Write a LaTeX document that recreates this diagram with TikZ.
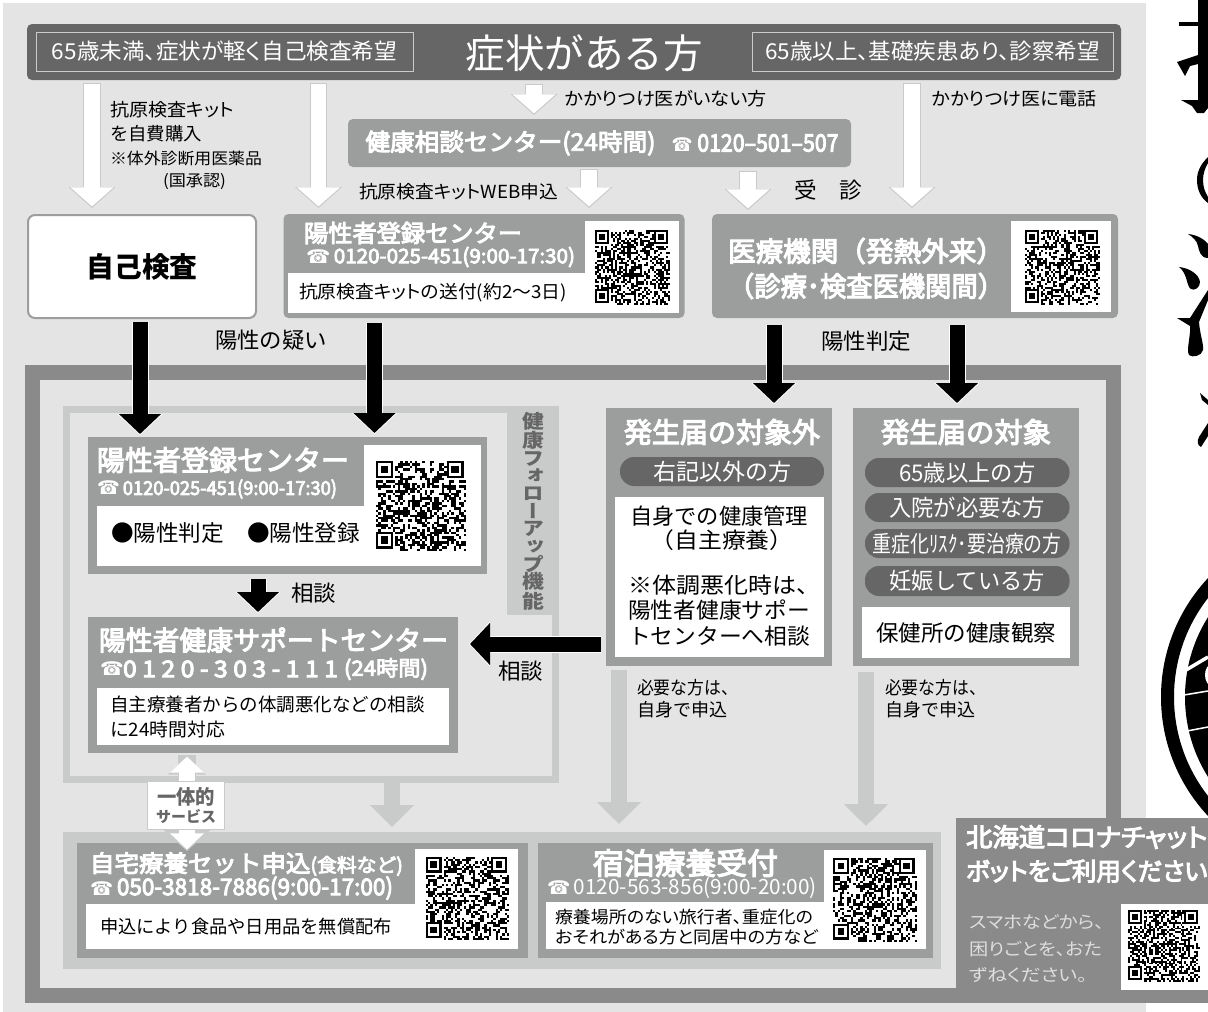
\documentclass[tikz,border=0pt]{standalone}
\usepackage{fontspec}
\usetikzlibrary{arrows.meta}
\setmainfont{Noto Sans CJK JP}
\newfontfamily\phoneFont{DejaVu Sans}
\newfontfamily\medFont[RawFeature={embolden=4}]{Noto Sans CJK JP}
\newfontfamily\vertFont[RawFeature={+vert}]{Noto Sans CJK JP}

\definecolor{panelGray}{RGB}{228,228,228}
\definecolor{boxGray}{RGB}{156,157,157}
\definecolor{darkGray}{RGB}{102,102,102}
\definecolor{frameGray}{RGB}{138,138,138}
\definecolor{bandGray}{RGB}{201,202,202}
\definecolor{softText}{RGB}{222,222,222}

\newcommand{\sz}[1]{\fontsize{#1}{#1}\selectfont}
\newcommand{\fitw}[2]{\resizebox{#1pt}{\height}{#2}}
\newcommand{\telMark}{{\phoneFont\sz{19}☎}}
\newcommand{\tight}{\addfontfeature{RawFeature=+palt}}

% x, y, side of the code
\newcommand{\qrCode}[3]{%
  \pgfmathsetmacro{\qrStep}{#3/37}
  \foreach \i in {0,...,36}{
    \foreach \j in {0,...,36}{
      \pgfmathrandominteger{\qrBit}{0}{1}
      \ifnum\qrBit=1
        \fill (#1+\i*\qrStep,#2+\j*\qrStep) rectangle ++(\qrStep,\qrStep);
      \fi
    }
  }
  \foreach \u/\v in {0/0,29/0,0/29}{
    \fill[white] (#1+\u*\qrStep,#2+\v*\qrStep) rectangle ++(8*\qrStep,8*\qrStep);
    \fill (#1+\u*\qrStep,#2+\v*\qrStep) rectangle ++(7*\qrStep,7*\qrStep);
    \fill[white] (#1+\u*\qrStep+\qrStep,#2+\v*\qrStep+\qrStep) rectangle ++(5*\qrStep,5*\qrStep);
    \fill (#1+\u*\qrStep+2*\qrStep,#2+\v*\qrStep+2*\qrStep) rectangle ++(3*\qrStep,3*\qrStep);
  }
}

\tikzset{
  box/.style={inner sep=0,outer sep=0,fill=boxGray},
  whiteBox/.style={inner sep=0,outer sep=0,fill=white},
  roundBox/.style={box,rounded corners=5pt},
  pill/.style={inner sep=0,outer sep=0,fill=darkGray,rounded corners=14pt,text=white,font=\sz{23}},
  lbl/.style={inner sep=0,outer sep=0},
  head/.style={lbl,text=white,font=\sz{28}\bfseries},
  tel/.style={lbl,text=white,font=\sz{20}\medFont},
  hollowArrow/.style={draw=white,line width=15.5pt,shorten >=1.6pt,shorten <=1pt,
    -{Triangle[length=19pt,width=42pt]},
    preaction={draw=bandGray,line width=17.5pt,shorten >=0pt,shorten <=0pt,-{Triangle[length=21pt,width=46pt]}}},
  bigArrow/.style={draw=black,line width=15pt,-{Triangle[length=20pt,width=41pt]},
    preaction={draw=white,line width=17pt,shorten >=-1pt,-{Triangle[length=21pt,width=44pt]}}},
  softArrow/.style={draw=bandGray,line width=16pt,-{Triangle[length=22pt,width=43pt]}},
}

\begin{document}
\begin{tikzpicture}[x=1pt,y=-1pt]
\useasboundingbox (0,0) rectangle (1208,1012);
\clip (0,0) rectangle (1208,1012);
\pgfmathsetseed{7}

% right hand side, cut off by the page
\fill (1198,0) -- (1208,0) -- (1208,108) -- (1204,113) -- (1197,113) -- (1192,106) -- (1181,100) -- (1198,100) -- cycle;
\fill (1179,22) rectangle (1198,26);
\fill (1177,62) -- (1198,55) -- (1198,64) -- (1190,66) -- (1185,76) -- cycle;
\fill (1208,157) .. controls (1200,165) and (1197,172) .. (1197,180) .. controls (1197,190) and (1201,198) .. (1208,203) -- (1208,197) .. controls (1205,192) and (1203,187) .. (1203,180) .. controls (1203,174) and (1205,168) .. (1208,163) -- cycle;
\fill (1188,234) .. controls (1198,235) and (1205,240) .. (1208,244) -- (1208,258) .. controls (1200,258) and (1199,250) .. (1198,246) .. controls (1197,241) and (1193,237) .. cycle;
\fill (1179,267) .. controls (1189,268) and (1199,274) .. (1200,282) .. controls (1200,288) and (1194,291) .. (1191,289) .. controls (1186,286) and (1188,274) .. cycle;
\fill (1177,318) -- (1190,318) -- (1208,290) -- (1208,300) -- (1199,322) .. controls (1200,335) and (1204,345) .. (1203,350) .. controls (1202,356) and (1192,358) .. (1189,355) .. controls (1186,350) and (1191,335) .. (1190,326) -- cycle;
\fill (1200,393) -- (1208,400) -- (1208,405) -- (1202,400) -- cycle;
\fill (1208,423) -- (1199,437) .. controls (1197,441) and (1197,445) .. (1201,447) -- (1208,436) -- cycle;
\draw[line width=13pt] (1335,697) circle (167.5);
\fill (1335,697) circle (150);
\draw[white,line width=3.5pt] (1186,670) -- (1208,657);
\draw[white,line width=1.5pt] (1184,695) -- (1208,691);
\draw[white,line width=1.5pt] (1187,731) -- (1208,727);
\fill[white] (1212,675) ellipse (7 and 11);

% gray panel
\node[inner sep=0,outer sep=0,fill=panelGray,minimum width=1143pt,minimum height=1009pt] (panel) at (574.5,507.5) {};
\node[inner sep=0,outer sep=0,draw=frameGray,line width=15pt,fill=panelGray,minimum width=1081pt,minimum height=623pt] (outer) at (573,684) {};

% symptoms header
\node[inner sep=0,fill=darkGray,rounded corners=5pt,minimum width=1094pt,minimum height=56pt] (hdr) at (574,52) {};
\node[inner sep=0,draw=bandGray,minimum width=377pt,minimum height=39pt,text=white,font=\sz{22}] (hdrLeft) at (224.5,51.5) {\fitw{345}{\tight 65歳未満、症状が軽く自己検査希望}};
\node[inner sep=0,draw=bandGray,minimum width=361pt,minimum height=39pt,text=white,font=\sz{22}] (hdrRight) at (932.5,51.5) {\fitw{335}{\tight 65歳以上、基礎疾患あり、診察希望}};
\node[lbl,text=white,font=\sz{40}] (hdrTitle) at (584,53) {\fitw{237}{症状がある方}};

\coordinate (colA) at (92,0);
\coordinate (colB) at (318.5,0);
\coordinate (colC) at (534,0);
\coordinate (colD) at (589,0);
\coordinate (colE) at (748,0);
\coordinate (colF) at (912,0);

% consultation centre
\node[roundBox,minimum width=503pt,minimum height=48pt] (consult) at (599.5,143) {};
\node[lbl,text=white,font=\sz{24}\medFont] (consultName) at (510.5,143) {\fitw{290}{健康相談センター(24時間)}};
\node[lbl,text=white,font=\sz{24}\medFont] (consultTel) at (755,143) {\fitw{167}{\telMark\ 0120–501–507}};

% self test
\node[inner sep=0,draw=boxGray,line width=2pt,fill=white,rounded corners=7pt,minimum width=228pt,minimum height=103pt,font=\sz{28}\bfseries] (self) at (142,266.5) {\fitw{111}{自己検査}};

% registration centre, top
\node[roundBox,minimum width=401pt,minimum height=104pt] (regTop) at (484,266) {};
\node[whiteBox,minimum width=298pt,minimum height=40pt] (regTopText) at (436.5,293) {};
\node[whiteBox,minimum width=94pt,minimum height=92pt] (regTopQr) at (632,267) {};
\node[head,font=\sz{24}\medFont,anchor=west] (regTopName) at (304,233) {\fitw{218}{陽性者登録センター}};
\node[tel,anchor=west] (regTopTel) at (306,257) {\fitw{269}{\telMark\,0120-025-451(9:00-17:30)}};
\node[lbl,anchor=west,font=\sz{18}] (regTopNote) at (299,293) {\fitw{268}{\tight 抗原検査キットの送付(約2〜3日)}};
\qrCode{595}{230}{75}

% medical institutions
\node[roundBox,minimum width=406pt,minimum height=104pt] (medical) at (915,266) {};
\node[whiteBox,minimum width=100pt,minimum height=91pt] (medicalQr) at (1061,266.5) {};
\node[head,font=\sz{27.5}\medFont] (medicalA) at (866,251) {\fitw{276}{医療機関（発熱外来）}};
\node[head,font=\sz{27.5}\medFont] (medicalB) at (866,286) {\fitw{276}{（診療･検査医機関間）}};
\qrCode{1025}{230}{75}

% follow up frame
\node[inner sep=0,outer sep=3.5pt,draw=bandGray,line width=7pt,minimum width=489pt,minimum height=370pt] (follow) at (311,594.5) {};
\node[inner sep=0,outer sep=0,fill=bandGray,minimum width=52pt,minimum height=209pt] (followBand) at (533,510.5) {};
\node[lbl,align=center,text=darkGray,xscale=1.15,transform shape,font=\vertFont\bfseries\fontsize{19}{17.7}\selectfont] (followText) at (533,511) {健\\康\\フ\\ォ\\ロ\\ー\\ア\\ッ\\プ\\機\\能};

% registration centre, main
\node[box,minimum width=399pt,minimum height=137pt] (regMain) at (287.5,505.5) {};
\node[whiteBox,minimum width=384pt,minimum height=60pt] (regMainText) at (289,536) {};
\node[whiteBox,minimum width=117.5pt,minimum height=121pt] (regMainQr) at (422.25,505.5) {};
\node[head,font=\sz{28}\medFont,anchor=west] (regMainName) at (97,460) {\fitw{252}{陽性者登録センター}};
\node[tel,font=\sz{19}\medFont,anchor=west] (regMainTel) at (97,489) {\fitw{240}{\telMark\,0120-025-451(9:00-17:30)}};
\node[lbl,anchor=west,font=\sz{22.5}] (regMainA) at (111,533) {\fitw{113}{●陽性判定}};
\node[lbl,anchor=west,font=\sz{22.5}] (regMainB) at (247,533) {\fitw{113}{●陽性登録}};
\qrCode{376}{461}{90}

% support centre
\node[box,minimum width=369.5pt,minimum height=136pt] (support) at (272.75,685) {};
\node[whiteBox,minimum width=352pt,minimum height=57pt] (supportText) at (273,716.5) {};
\node[head,font=\sz{27}\medFont,anchor=west] (supportName) at (99,640) {\fitw{349}{陽性者健康サポートセンター}};
\node[tel,anchor=west] (supportTelMark) at (100,669) {\telMark};
\node[tel,anchor=west,font=\sz{23}\medFont] (supportTel) at (123,669) {\fitw{215}{\addfontfeature{LetterSpace=22}0120-303-111}};
\node[tel,anchor=west,font=\sz{21}\medFont] (supportHours) at (344,669) {\fitw{84}{(24時間)}};
\node[lbl,anchor=west,font=\sz{18.5}] (supportA) at (110,704) {\fitw{315}{自主療養者からの体調悪化などの相談}};
\node[lbl,anchor=west,font=\sz{18.5}] (supportB) at (110,729) {\fitw{115}{に24時間対応}};

% not notifiable
\node[box,minimum width=226pt,minimum height=258pt] (outside) at (719,537) {};
\node[head,font=\sz{28}\medFont] (outsideName) at (722,432) {\fitw{196}{発生届の対象外}};
\node[pill,minimum width=204pt,minimum height=29pt] (outsidePill) at (722,471.5) {\fitw{138}{右記以外の方}};
\node[whiteBox,minimum width=209pt,minimum height=160pt] (outsideText) at (719.5,577) {};
\node[lbl,font=\sz{22}] (outsideA) at (719,516) {\fitw{178}{自身での健康管理}};
\node[lbl,font=\sz{22}] (outsideB) at (722,540) {\fitw{143}{（自主療養）}};
\node[lbl,font=\sz{22},anchor=west] (outsideC) at (628,585) {\fitw{192}{※体調悪化時は、}};
\node[lbl,font=\sz{22},anchor=west] (outsideD) at (628,610) {\fitw{182}{陽性者健康サポー}};
\node[lbl,font=\sz{22},anchor=west] (outsideE) at (628,636) {\fitw{182}{トセンターへ相談}};

% notifiable
\node[box,minimum width=226pt,minimum height=258pt] (target) at (966,537) {};
\node[head,font=\sz{28}\medFont] (targetName) at (966,432) {\fitw{170}{発生届の対象}};
\node[pill,minimum width=204.5pt,minimum height=29pt] (pillA) at (967.25,472.5) {\fitw{136}{65歳以上の方}};
\node[pill,minimum width=204.5pt,minimum height=29pt] (pillB) at (967.25,507.5) {\fitw{156}{入院が必要な方}};
\node[pill,minimum width=204.5pt,minimum height=29pt] (pillC) at (967.25,543.5) {\fitw{189}{重症化ﾘｽｸ･要治療の方}};
\node[pill,minimum width=204.5pt,minimum height=30pt] (pillD) at (967.25,581) {\fitw{155}{妊娠している方}};
\node[whiteBox,minimum width=208pt,minimum height=51pt,font=\sz{22.5}] (targetText) at (966,632.5) {\fitw{180}{保健所の健康観察}};

% bottom row
\node[inner sep=0,outer sep=0,fill=bandGray,minimum width=878pt,minimum height=137pt] (botFrame) at (502,900.5) {};
\node[box,minimum width=451pt,minimum height=115pt] (home) at (302.5,900.5) {};
\node[whiteBox,minimum width=432pt,minimum height=45pt] (homeText) at (302,926.5) {};
\node[whiteBox,minimum width=103pt,minimum height=100pt] (homeQr) at (466.5,899) {};
\node[head,font=\sz{23.5}\medFont,anchor=west] (homeName) at (90,864) {\fitw{313}{自宅療養セット申込{\sz{19}(食料など)}}};
\node[tel,font=\sz{23}\medFont,anchor=west] (homeTel) at (90,888) {\fitw{303}{\telMark\,050-3818-7886(9:00-17:00)}};
\node[lbl,anchor=west,font=\sz{18.3}] (homeNote) at (100,927) {\fitw{292}{申込により食品や日用品を無償配布}};
\qrCode{426}{857}{83}

\node[box,minimum width=395pt,minimum height=115pt] (stay) at (735.5,900.5) {};
\node[whiteBox,minimum width=278pt,minimum height=47pt] (stayText) at (685,925.5) {};
\node[whiteBox,minimum width=102pt,minimum height=99pt] (stayQr) at (875,899.5) {};
\node[head,font=\sz{30}\medFont] (stayName) at (685.5,863) {\fitw{185}{宿泊療養受付}};
\node[tel,font=\sz{21},anchor=west] (stayTel) at (547,888) {\fitw{270}{\telMark\,0120-563-856(9:00-20:00)}};
\node[lbl,anchor=west,font=\sz{17}] (stayA) at (555,917) {\fitw{258}{\tight 療養場所のない旅行者、重症化の}};
\node[lbl,anchor=west,font=\sz{17}] (stayB) at (555,937) {\fitw{263}{\tight おそれがある方と同居中の方など}};
\qrCode{833}{858}{84}

% free labels
\node[lbl,anchor=west,font=\sz{18}] (kitA) at (110,110) {\fitw{124}{\tight 抗原検査キット}};
\node[lbl,anchor=west,font=\sz{18}] (kitB) at (110,134) {\fitw{92}{を自費購入}};
\node[lbl,anchor=west,font=\sz{16}] (kitC) at (110,158) {\fitw{152}{※体外診断用医薬品}};
\node[lbl,anchor=west,font=\sz{16}] (kitD) at (163,182) {\fitw{63}{(国承認)}};
\node[lbl,anchor=west,font=\sz{18}] (noDoc) at (565,99) {\fitw{202}{\tight かかりつけ医がいない方}};
\node[lbl,anchor=west,font=\sz{18}] (callDoc) at (932,99) {\fitw{165}{\tight かかりつけ医に電話}};
\node[lbl,anchor=west,font=\sz{18}] (webApply) at (359,192) {\fitw{199}{\tight 抗原検査キットWEB申込}};
\node[lbl,font=\sz{22}] (visit) at (828,190) {\fitw{68}{受\hspace{1em}診}};
\node[lbl,font=\sz{22}] (suspect) at (271,340) {\fitw{112}{陽性の疑い}};
\node[lbl,font=\sz{22}] (posJudge) at (866,341) {\fitw{90}{陽性判定}};
\node[lbl,anchor=west,font=\sz{22}] (talkA) at (291,593) {\fitw{45}{相談}};
\node[lbl,anchor=west,font=\sz{22}] (talkB) at (498,671) {\fitw{45}{相談}};
\node[lbl,anchor=west,font=\sz{18}] (needA) at (637,688) {\fitw{101}{必要な方は、}};
\node[lbl,anchor=west,font=\sz{18}] (needB) at (637,710) {\fitw{90}{自身で申込}};
\node[lbl,anchor=west,font=\sz{18}] (needC) at (885,688) {\fitw{101}{必要な方は、}};
\node[lbl,anchor=west,font=\sz{18}] (needD) at (885,710) {\fitw{90}{自身で申込}};

% hollow arrows
\draw[hollowArrow] ([yshift=-3pt]hdr.south -| colA) -- ([yshift=6pt]self.north -| colA);
\draw[hollowArrow] ([yshift=-3pt]hdr.south -| colB) -- ([yshift=6pt]regTop.north -| colB);
\draw[hollowArrow] ([yshift=-4pt]hdr.south -| colC) -- ([yshift=4pt]consult.north -| colC);
\draw[hollowArrow] ([yshift=-2pt]consult.south -| colD) -- ([yshift=6pt]regTop.north -| colD);
\draw[hollowArrow] ([yshift=-4pt]consult.south -| colE) -- ([yshift=4pt]medical.north -| colE);
\draw[hollowArrow] ([yshift=-3pt]hdr.south -| colF) -- ([yshift=6pt]medical.north -| colF);

% black arrows
\coordinate (blackA) at (140,0);
\coordinate (blackB) at (374.5,0);
\coordinate (blackC) at (774,0);
\coordinate (blackD) at (957,0);
\coordinate (blackE) at (258,0);
\coordinate (rowLeft) at (0,644);
\draw[bigArrow] ([yshift=-3pt]self.south -| blackA) -- ([yshift=3pt]regMain.north -| blackA);
\draw[bigArrow] ([yshift=-5pt]regTop.south -| blackB) -- ([yshift=4pt]regMain.north -| blackB);
\draw[bigArrow] ([yshift=-7pt]medical.south -| blackC) -- ([yshift=5pt]outside.north -| blackC);
\draw[bigArrow] ([yshift=-7pt]medical.south -| blackD) -- ([yshift=5pt]target.north -| blackD);
\draw[bigArrow] ([yshift=-5pt]regMain.south -| blackE) -- ([yshift=5pt]support.north -| blackE);
\draw[bigArrow] ([xshift=-5pt]outside.west |- rowLeft) -- ([xshift=12.5pt]support.east |- rowLeft);

% soft arrows
\coordinate (softA) at (619,0);
\coordinate (softB) at (866,0);
\coordinate (softC) at (392,0);
\draw[softArrow] ([yshift=-4pt]outside.south -| softA) -- ([yshift=19pt]stay.north -| softA);
\draw[softArrow] ([yshift=-6pt]target.south -| softB) -- ([yshift=17pt]stay.north -| softB);
\draw[softArrow] ([yshift=0pt]follow.south -| softC) -- ([yshift=5pt]botFrame.north -| softC);

% one service
\coordinate (colOne) at (187,0);
\draw[hollowArrow,shorten <=1.6pt,{Triangle[length=16pt,width=33pt]}-{Triangle[length=16pt,width=33pt]},
  preaction={draw=bandGray,line width=18pt,{Triangle[length=18pt,width=37pt]}-{Triangle[length=18pt,width=37pt]}}]
  ([yshift=-2pt]support.south -| colOne) -- ([yshift=-8pt]home.north -| colOne);
\node[inner sep=0,draw=bandGray,line width=1pt,fill=white,minimum width=77pt,minimum height=48pt] (oneBox) at (186,805.5) {};
\node[lbl,text=darkGray,font=\sz{20}\bfseries] (oneA) at (186,797) {\fitw{58}{一体的}};
\node[lbl,text=darkGray,font=\sz{15}\bfseries] (oneB) at (186,816) {\fitw{60}{サービス}};

% chat bot
\node[inner sep=0,outer sep=0,fill=frameGray,minimum width=252pt,minimum height=185pt] (chat) at (1082,910.5) {};
\node[lbl,anchor=west,text=white,font=\sz{25.5}\medFont] (chatA) at (966,837) {\fitw{241.5}{\tight 北海道コロナチャット}};
\node[lbl,anchor=west,text=white,font=\sz{25}\medFont] (chatB) at (966,871) {\fitw{241.5}{\tight ボットをご利用ください}};
\node[lbl,anchor=west,text=softText,font=\sz{17}] (chatC) at (969,922) {\fitw{135}{\tight スマホなどから、}};
\node[lbl,anchor=west,text=softText,font=\sz{17}] (chatD) at (969,949) {\fitw{133}{\tight 困りごとを、おた}};
\node[lbl,anchor=west,text=softText,font=\sz{17}] (chatE) at (969,975) {\fitw{118}{\tight ずねください。}};
\node[whiteBox,minimum width=87pt,minimum height=86pt] (chatQr) at (1164.5,947) {};
\qrCode{1128}{910}{72}
\end{tikzpicture}
\end{document}
